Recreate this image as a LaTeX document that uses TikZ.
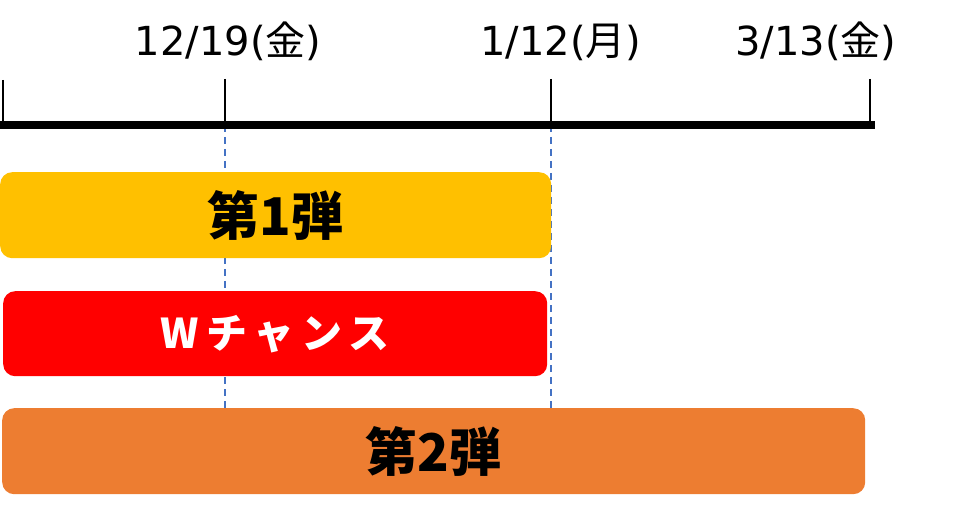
\documentclass[tikz,border=0pt]{standalone}
\usepackage{fontspec}
\newfontfamily\jp{Noto Sans CJK JP}
\newfontfamily\lat{DejaVu Sans}
\usetikzlibrary{backgrounds}
\definecolor{baryellow}{HTML}{FFC000}
\definecolor{barred}{HTML}{FF0000}
\definecolor{barorange}{HTML}{ED7D31}
\definecolor{guideblue}{HTML}{4472C4}
\newcommand\datetext[3]{{\lat #1(}{\jp #2}{\lat #3)}}
\begin{document}
\begin{tikzpicture}[x=1pt,y=-1pt,
  bar/.style={rounded corners=12pt, anchor=north west, inner sep=0pt, minimum height=86pt},
  bartext/.style={font=\jp\bfseries\fontsize{52}{56}\selectfont},
  tickline/.style={line width=2pt},
  axisline/.style={line width=8pt},
  guide/.style={draw=guideblue, line width=1.5pt, dash pattern=on 7pt off 5pt},
  datelabel/.style={font=\fontsize{40}{44}\selectfont, text=black, inner sep=0pt, anchor=base}]
\useasboundingbox (0,0) rectangle (965,518);
% axis
\coordinate (axL) at (0,125);
\coordinate (axR) at (875,125);
\draw[axisline] (axL) -- (axR);
% ticks
\coordinate (t0top) at (3,80);   \coordinate (t0) at (3,125);
\coordinate (t1top) at (225,79); \coordinate (t1) at (225,125);
\coordinate (t2top) at (551,79); \coordinate (t2) at (551,125);
\coordinate (t3top) at (870,79); \coordinate (t3) at (870,125);
\draw[tickline] (t0top) -- (t0);
\draw[tickline] (t1top) -- (t1);
\draw[tickline] (t2top) -- (t2);
\draw[tickline] (t3top) -- (t3);
% date labels
\node[datelabel] (d1) at (228,56) {\datetext{12/19}{金}{}};
\node[datelabel] (d2) at (561,56) {\datetext{1/12}{月}{}};
\node[datelabel] (d3) at (816,56) {\datetext{3/13}{金}{}};
% bars
\node[bar, fill=baryellow, minimum width=551pt] (b1) at (0,172) {};
\node[bartext, text=black] (l1) at (b1.center) {第1弾};
\node[bar, fill=barred, minimum width=544pt, minimum height=85pt] (b2) at (3,291) {};
\node[bartext, text=white, font=\jp\bfseries\fontsize{41}{44}\selectfont\addfontfeature{LetterSpace=17}] (l2) at (b2.center) {Wチャンス};
\node[bar, fill=barorange, minimum width=863pt] (b3) at (2,408) {};
\node[bartext, text=black] (l3) at (b3.center) {第2弾};
% guides behind bars
\begin{scope}[on background layer]
\draw[guide] (t1) -- (t1 |- b3.north);
\draw[guide] (t2) -- (t2 |- b3.north);
\end{scope}
\end{tikzpicture}
\end{document}
